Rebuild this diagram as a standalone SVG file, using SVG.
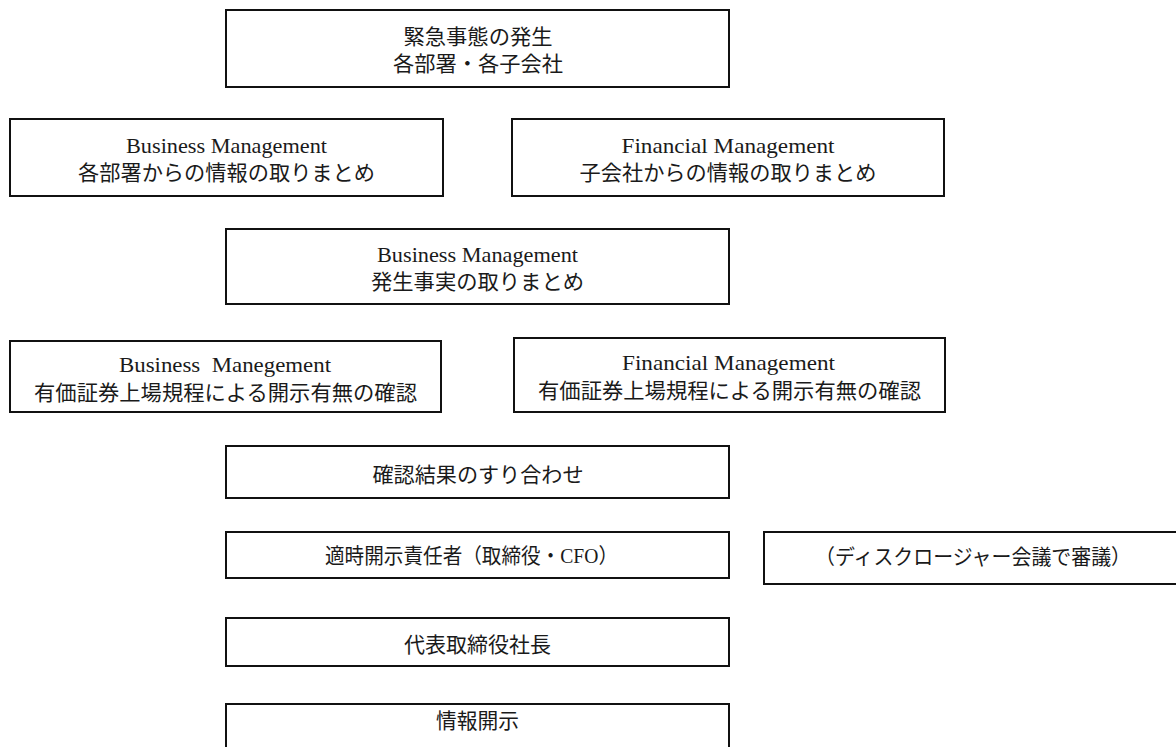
<svg xmlns="http://www.w3.org/2000/svg" width="1176" height="747" viewBox="0 0 1176 747">
<style>
.box{fill:#fff;stroke:#111;stroke-width:2}
text{font-family:"Liberation Serif","Noto Sans CJK JP",serif;font-size:21px;fill:#1a1a1a;text-anchor:middle}
</style>
<rect width="1176" height="747" fill="#fff"/>
<g id="connectors"></g>
<g id="n1">
<rect class="box" x="226" y="10" width="503" height="77"/>
<text x="478" y="44" textLength="149" lengthAdjust="spacingAndGlyphs">緊急事態の発生</text>
<text x="478" y="71" textLength="170" lengthAdjust="spacingAndGlyphs">各部署・各子会社</text>
</g>
<g id="n2">
<rect class="box" x="10" y="119" width="433" height="77"/>
<text x="226.5" y="153" textLength="201" lengthAdjust="spacingAndGlyphs">Business Management</text>
<text x="226.5" y="180" textLength="297" lengthAdjust="spacingAndGlyphs">各部署からの情報の取りまとめ</text>
</g>
<g id="n3">
<rect class="box" x="512" y="119" width="432" height="77"/>
<text x="728" y="153" textLength="213" lengthAdjust="spacingAndGlyphs">Financial Management</text>
<text x="728" y="180" textLength="297" lengthAdjust="spacingAndGlyphs">子会社からの情報の取りまとめ</text>
</g>
<g id="n4">
<rect class="box" x="226" y="229" width="503" height="75"/>
<text x="477.5" y="262" textLength="201" lengthAdjust="spacingAndGlyphs">Business Management</text>
<text x="477.5" y="289" textLength="213" lengthAdjust="spacingAndGlyphs">発生事実の取りまとめ</text>
</g>
<g id="n5">
<rect class="box" x="10" y="341" width="431" height="71"/>
<text x="225" y="372" textLength="212" lengthAdjust="spacingAndGlyphs" xml:space="preserve">Business  Manegement</text>
<text x="225.5" y="400" textLength="383" lengthAdjust="spacingAndGlyphs">有価証券上場規程による開示有無の確認</text>
</g>
<g id="n6">
<rect class="box" x="514" y="338" width="431" height="74"/>
<text x="728.5" y="370" textLength="213" lengthAdjust="spacingAndGlyphs">Financial Management</text>
<text x="729.5" y="398" textLength="383" lengthAdjust="spacingAndGlyphs">有価証券上場規程による開示有無の確認</text>
</g>
<g id="n7">
<rect class="box" x="226" y="446" width="503" height="52"/>
<text x="478" y="482" textLength="211" lengthAdjust="spacingAndGlyphs">確認結果のすり合わせ</text>
</g>
<g id="n8">
<rect class="box" x="226" y="532" width="503" height="46"/>
<text x="471.5" y="563" textLength="293" lengthAdjust="spacingAndGlyphs">適時開示責任者（取締役・CFO）</text>
</g>
<g id="n9">
<rect class="box" x="764" y="532" width="420" height="52"/>
<text x="973" y="564" textLength="316" lengthAdjust="spacingAndGlyphs">（ディスクロージャー会議で審議）</text>
</g>
<g id="n10">
<rect class="box" x="226" y="618" width="503" height="48"/>
<text x="477.5" y="652" textLength="147" lengthAdjust="spacingAndGlyphs">代表取締役社長</text>
</g>
<g id="n11">
<rect class="box" x="226" y="704" width="503" height="60"/>
<text x="477.5" y="728" textLength="83" lengthAdjust="spacingAndGlyphs">情報開示</text>
</g>
</svg>
